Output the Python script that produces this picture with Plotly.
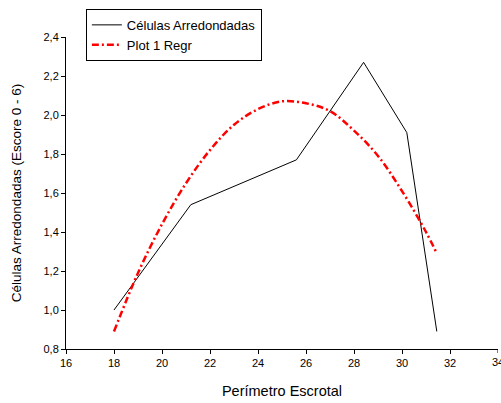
import plotly.graph_objects as go

# Observed data (black line)
obs_x = [18.0, 21.2, 25.6, 28.4, 30.2, 31.45]
obs_y = [1.00, 1.54, 1.77, 2.27, 1.91, 0.89]

# Regression curve
reg_x = [18.0, 19.0, 20.0, 21.0, 22.0, 23.0, 24.0, 25.0, 26.0, 27.0, 28.0, 29.0, 30.0, 31.0, 31.45]
reg_y = [0.89, 1.19, 1.44, 1.65, 1.82, 1.95, 2.03, 2.07, 2.06, 2.02, 1.92, 1.79, 1.61, 1.40, 1.29]

x_ticks = [16, 18, 20, 22, 24, 26, 28, 30, 32, 34]
y_ticks = [0.8, 1.0, 1.2, 1.4, 1.6, 1.8, 2.0, 2.2, 2.4]

fig = go.Figure()
fig.add_trace(go.Scatter(x=obs_x, y=obs_y, mode="lines", name="Células Arredondadas",
                         line=dict(color="black", width=1)))
fig.add_trace(go.Scatter(x=reg_x, y=reg_y, mode="lines", name="Plot 1 Regr",
                         line=dict(color="red", width=2.5, dash="7px,3px,2px,3px", shape="spline")))

font = "Liberation Sans, Arial, sans-serif"
fig.update_layout(
    width=501, height=403,
    margin=dict(l=66, r=3, t=37, b=54),
    paper_bgcolor="white", plot_bgcolor="white",
    separators=",.",
    font=dict(family=font, size=11, color="black"),
    showlegend=True,
    legend=dict(x=0.046, y=1.09, xanchor="left", yanchor="top",
                bordercolor="black", borderwidth=1, bgcolor="white",
                font=dict(size=13), tracegroupgap=0, itemwidth=30),
    xaxis=dict(range=[16, 34], tickvals=x_ticks[:-1], ticktext=[str(v) for v in x_ticks[:-1]],
               showgrid=False, zeroline=False, showline=True, linecolor="black", linewidth=1,
               ticks="outside", ticklen=4, tickcolor="black",
               title=dict(text="Perímetro Escrotal", font=dict(size=14.5), standoff=17)),
    yaxis=dict(range=[0.8, 2.4], tickvals=y_ticks, tickformat=".1f",
               showgrid=False, zeroline=False, showline=True, linecolor="black", linewidth=1,
               ticks="outside", ticklen=4, tickcolor="black",
               title=dict(text="Células Arredondadas (Escore 0 - 6)", font=dict(size=13.5), standoff=18)),
)
# last tick (34) sits at the right edge, partly cut off as in the reference
fig.add_shape(type="line", xref="x", yref="paper", x0=x_ticks[-1], x1=x_ticks[-1],
              y0=0, y1=-4 / 312, line=dict(color="black", width=1))
fig.add_annotation(x=x_ticks[-1], y=0, xref="x", yref="paper", text=str(x_ticks[-1]),
                   showarrow=False, yanchor="top", yshift=-5, font=dict(size=11))

fig.write_html("out.html")
